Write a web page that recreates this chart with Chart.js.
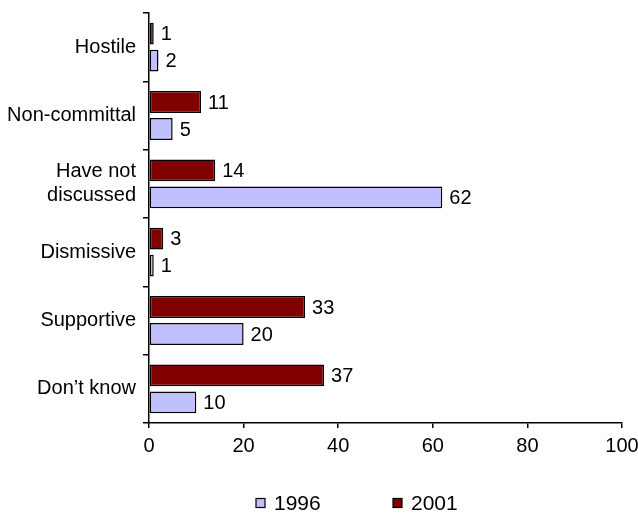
<!DOCTYPE html>
<html>
<head>
<meta charset="utf-8">
<script src="https://cdn.jsdelivr.net/npm/chart.js@4/dist/chart.umd.min.js"></script>
<style>
  html, body { margin: 0; padding: 0; background: #fff; }
  #wrap { width: 638px; height: 513px; }
</style>
</head>
<body>
<div id="wrap"><canvas id="chart" width="638" height="513"></canvas></div>
<script>
// chart data
const categories = ['Hostile', 'Non-committal', ['Have not', 'discussed'], 'Dismissive', 'Supportive', 'Don\u2019t know'];
const values2001 = [1, 11, 14, 3, 33, 37];
const values1996 = [2, 5, 62, 1, 20, 10];
const xTicks = [0, 20, 40, 60, 80, 100];

const FONT = '"Liberation Sans", Arial, sans-serif';

// draw the value next to each bar
const valueLabels = {
  id: 'valueLabels',
  afterDatasetsDraw(chart) {
    const ctx = chart.ctx;
    ctx.save();
    ctx.font = '20px ' + FONT;
    ctx.fillStyle = '#000';
    ctx.textAlign = 'left';
    ctx.textBaseline = 'middle';
    chart.data.datasets.forEach((ds, i) => {
      chart.getDatasetMeta(i).data.forEach((bar, j) => {
        ctx.fillText(String(ds.data[j]), bar.x + 7, bar.y + 1);
      });
    });
    ctx.restore();
  }
};

// legend under the chart, 1996 first (like the excel one)
const bottomLegend = {
  id: 'bottomLegend',
  afterDraw(chart) {
    const ctx = chart.ctx;
    const spots = [256, 393];
    const y = 503;
    ctx.save();
    ctx.font = '21px ' + FONT;
    ctx.textAlign = 'left';
    ctx.textBaseline = 'middle';
    chart.data.datasets.slice().reverse().forEach((ds, k) => {
      const x = spots[k];
      ctx.fillStyle = ds.backgroundColor;
      ctx.fillRect(x, y - 4.5, 9, 9);
      ctx.strokeStyle = '#000';
      ctx.lineWidth = 1.2;
      ctx.strokeRect(x, y - 4.5, 9, 9);
      ctx.fillStyle = '#000';
      ctx.fillText(ds.label, x + 18, y + 1);
    });
    ctx.restore();
  }
};

new Chart(document.getElementById('chart').getContext('2d'), {
  type: 'bar',
  data: {
    labels: categories,
    datasets: [
      {
        label: '2001',
        data: values2001,
        backgroundColor: '#800000',
        borderColor: '#000',
        borderWidth: 1.5,
        borderSkipped: false,
        categoryPercentage: 0.79,
        barPercentage: 0.81
      },
      {
        label: '1996',
        data: values1996,
        backgroundColor: '#c0c0ff',
        borderColor: '#000',
        borderWidth: 1.5,
        borderSkipped: false,
        categoryPercentage: 0.79,
        barPercentage: 0.81
      }
    ]
  },
  options: {
    indexAxis: 'y',
    responsive: false,
    animation: false,
    layout: { padding: { top: 13, right: 16, left: 0, bottom: 50 } },
    plugins: {
      tooltip: { enabled: false },
      legend: { display: false }
    },
    scales: {
      x: {
        min: 0,
        max: 100,
        afterBuildTicks(scale) { scale.ticks = xTicks.map(v => ({ value: v })); },
        ticks: { color: '#000', padding: 6, maxRotation: 0, font: { family: FONT, size: 20 } },
        grid: { drawOnChartArea: false, drawTicks: true, tickLength: 5, color: '#000', lineWidth: 1.5 },
        border: { display: true, color: '#000', width: 1.5 },
        afterFit(scale) {
          scale.height = 40;
          scale.paddingLeft = 0;
          scale.paddingRight = 0;
        }
      },
      y: {
        ticks: { color: '#000', padding: 7, font: { family: FONT, size: 20 } },
        grid: { drawOnChartArea: false, drawTicks: true, tickLength: 6, color: '#000', lineWidth: 1.5, offset: true },
        border: { display: true, color: '#000', width: 1.5 },
        afterFit(scale) {
          scale.width = 149;
          scale.paddingTop = 0;
          scale.paddingBottom = 0;
        }
      }
    }
  },
  plugins: [valueLabels, bottomLegend]
});
</script>
</body>
</html>
